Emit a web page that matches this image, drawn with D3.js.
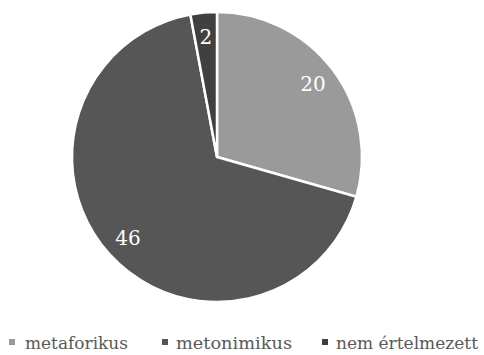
<!DOCTYPE html>
<html>
<head>
<meta charset="utf-8">
<script src="https://cdn.jsdelivr.net/npm/d3@7"></script>
<style>
  body { margin: 0; background: #fff; }
  svg { display: block; }
  text { font-family: "DejaVu Serif", "Liberation Serif", serif; }
</style>
</head>
<body>
<svg id="mainsvg" width="484" height="355"></svg>
<script>
const categories = ['metaforikus', 'metonimikus', 'nem értelmezett']
const values = [20, 46, 2]
const colors = ['#9a9a9a', '#565656', '#404040']

const cx = 217, cy = 157, radius = 145

const svg = d3.select('#mainsvg')
const g = svg.append('g').attr('transform', `translate(${cx},${cy})`)

const pie = d3.pie().sort(null).value(d => d)
const arcs = pie(values)
const arc = d3.arc().innerRadius(0).outerRadius(radius)
const labelArc = d3.arc().innerRadius(radius * 0.83).outerRadius(radius * 0.83)

g.selectAll('path.slice')
  .data(arcs)
  .join('path')
  .attr('class', 'slice')
  .attr('d', arc)
  .attr('fill', (d, i) => colors[i])
  .attr('stroke', '#fff')
  .attr('stroke-width', 2.5)
  .attr('stroke-linejoin', 'round')

g.selectAll('text.lbl')
  .data(arcs)
  .join('text')
  .attr('class', 'lbl')
  .attr('transform', d => `translate(${labelArc.centroid(d)})`)
  .attr('text-anchor', 'middle')
  .attr('dy', '0.35em')
  .attr('fill', '#fff')
  .attr('font-size', 20)
  .text(d => d.data)

// legend
const legendX = [9, 162, 322]
const legend = svg.append('g').attr('transform', 'translate(0,349)')
const item = legend.selectAll('g')
  .data(categories)
  .join('g')
  .attr('transform', (d, i) => `translate(${legendX[i]},0)`)
item.append('rect')
  .attr('x', 0).attr('y', -10)
  .attr('width', 6).attr('height', 6)
  .attr('fill', (d, i) => colors[i])
item.append('text')
  .attr('x', (d, i) => i === 0 ? 16 : 14)
  .attr('y', 0)
  .attr('fill', '#595959')
  .attr('font-size', 16.5)
  .attr('textLength', (d, i) => [103, 116, 142][i])
  .attr('lengthAdjust', 'spacingAndGlyphs')
  .text(d => d)
</script>
</body>
</html>
